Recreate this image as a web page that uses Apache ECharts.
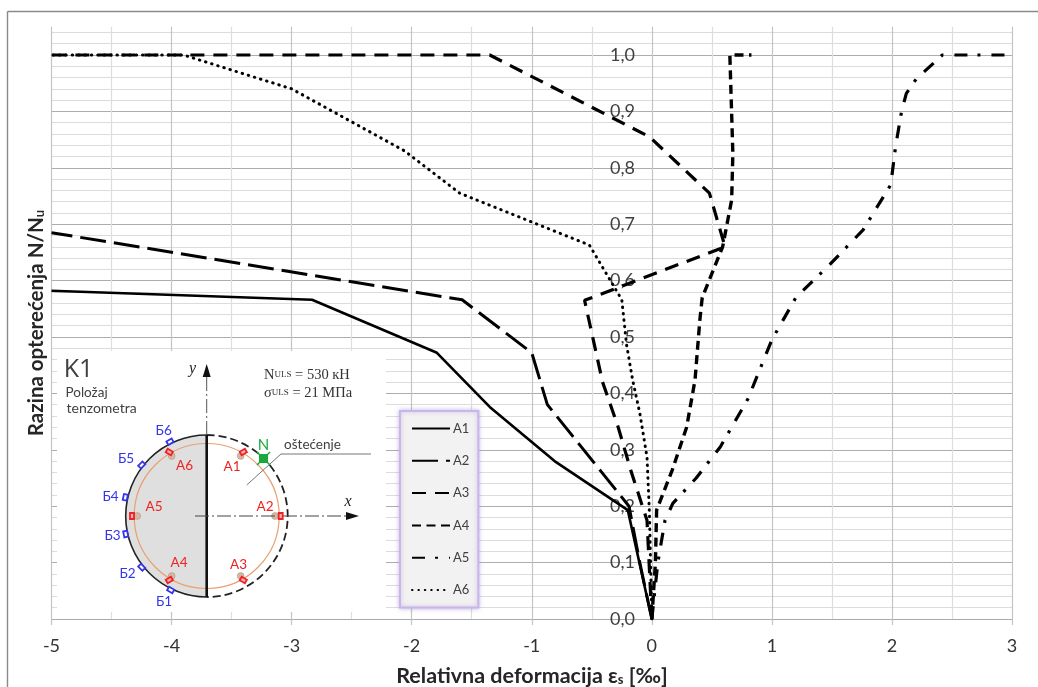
<!DOCTYPE html>
<html><head><meta charset="utf-8">
<style>html,body{margin:0;padding:0;background:#fff}#c{width:1038px;height:687px}</style>
<script src="https://cdn.jsdelivr.net/npm/echarts@6/dist/echarts.min.js"></script>
</head><body><div id="c"></div>
<script>
const A1 = [[0,0],[-0.2,0.193],[-0.81,0.28],[-1.35,0.376],[-1.79,0.472],[-2.83,0.566],[-5,0.582]];
const A2 = [[0,0],[-0.1,0.1],[-0.19,0.2],[-0.87,0.38],[-1.0,0.472],[-1.58,0.566],[-5,0.685]];
const A3 = [[0,0],[-0.04,0.175],[-0.17,0.26],[-0.28,0.34],[-0.41,0.42],[-0.56,0.565],[0.61,0.66],[0.48,0.755],[-0.02,0.855],[-1.35,1],[-5,1]];
const A4 = [[0,0],[0.03,0.1],[0.04,0.193],[0.17,0.264],[0.29,0.34],[0.36,0.424],[0.4,0.53],[0.42,0.57],[0.59,0.66],[0.665,0.743],[0.675,0.825],[0.65,1],[0.83,1]];
const A5 = [[0,0],[0.05,0.1],[0.11,0.175],[0.175,0.205],[0.37,0.25],[0.57,0.305],[0.8,0.39],[1,0.495],[1.2,0.57],[1.48,0.628],[1.76,0.69],[1.99,0.77],[2.03,0.837],[2.08,0.9],[2.12,0.932],[2.2,0.957],[2.42,1],[3,1]];
const A6 = [[0,0],[-0.02,0.188],[-0.04,0.287],[-0.1,0.365],[-0.16,0.424],[-0.21,0.486],[-0.25,0.566],[-0.52,0.663],[-1.6,0.755],[-2.06,0.83],[-3,0.94],[-3.9,1],[-5,1]];
const seriesNames = ['A1','A2','A3','A4','A5','A6'];
const xTitle = 'Relativna deformacija ε';
const yTitle = 'Razina opterećenja N/N';

const font = 'Lato, "Open Sans", sans-serif';
const serif = '"Liberation Serif", "DejaVu Serif", serif';
const txt = (x, y, text, size, fill, extra) => ({
  type: 'text', x, y, z: 6,
  style: Object.assign({text, fontSize: size, fontFamily: font, fill, align: 'center', verticalAlign: 'middle'}, extra || {})
});
const RED = '#ee2222', BLUE = '#3535e8', GREY = '#404040', GREEN = '#1aa83a';
const sensor = (x, y, rot, stroke) => ({
  type: 'rect', x, y, rotation: rot, z: 6,
  shape: {x: -3, y: -2, width: 6, height: 4},
  style: {fill: stroke === RED ? '#ffb0b0' : '#fff', stroke, lineWidth: 1.8}
});
const blob = (x, y) => ({type: 'circle', z: 5, shape: {cx: x, cy: y, r: 3.4}, style: {fill: '#d3b9a5', stroke: '#b09a88', lineWidth: 0.6}});
const cx = 206.7, cy = 516;
const inset = [
  {type: 'rect', z: 3, shape: {x: 57, y: 351, width: 329, height: 261}, style: {fill: '#fff'}},
  {type: 'sector', z: 4, shape: {cx, cy, r: 81, r0: 0, startAngle: Math.PI/2, endAngle: Math.PI*1.5, clockwise: true}, style: {fill: '#dfdfdf'}},
  {type: 'arc', z: 5, shape: {cx, cy, r: 81, startAngle: Math.PI/2, endAngle: Math.PI*1.5, clockwise: true}, style: {fill: 'none', stroke: '#222', lineWidth: 1.6}},
  {type: 'arc', z: 5, shape: {cx, cy, r: 81, startAngle: -Math.PI/2, endAngle: Math.PI/2, clockwise: true}, style: {fill: 'none', stroke: '#222', lineWidth: 1.8, lineDash: [8,4]}},
  {type: 'circle', z: 5, shape: {cx, cy, r: 72.5}, style: {fill: 'none', stroke: '#e8a070', lineWidth: 1.2}},
  {type: 'line', z: 6, shape: {x1: cx, y1: 435, x2: cx, y2: 597}, style: {stroke: '#111', lineWidth: 2.6}},
  {type: 'line', z: 6, shape: {x1: cx, y1: 435, x2: cx, y2: 372}, style: {stroke: '#555', lineWidth: 1, lineDash: [14,3,2,3]}},
  {type: 'polygon', z: 6, shape: {points: [[cx,364],[cx-4,377],[cx+4,377]]}, style: {fill: '#111'}},
  {type: 'line', z: 6, shape: {x1: 195, y1: cy, x2: 347, y2: cy}, style: {stroke: '#444', lineWidth: 1, lineDash: [14,3,2,3]}},
  {type: 'polygon', z: 6, shape: {points: [[359,cy],[346,cy-4],[346,cy+4]]}, style: {fill: '#111'}},
  {type: 'polyline', z: 6, shape: {points: [[246.7,485],[281,454],[371,454]]}, style: {fill: 'none', stroke: '#777', lineWidth: 1}},
  {type: 'line', z: 7, shape: {x1: 257, y1: 465, x2: 270, y2: 452}, style: {stroke: GREEN, lineWidth: 1.5}},
  {type: 'line', z: 7, shape: {x1: 257, y1: 452, x2: 270, y2: 465}, style: {stroke: GREEN, lineWidth: 1.5}},
  {type: 'rect', z: 7, shape: {x: 259, y: 454, width: 9, height: 9}, style: {fill: GREEN}},
  blob(240.7,456), blob(275,516), blob(240.7,576), blob(171.7,576), blob(137.3,516), blob(171.7,456),
  sensor(243.3,452,Math.PI/6,RED), sensor(280.7,516,Math.PI/2,RED), sensor(243.3,580,-Math.PI/6,RED),
  sensor(169.3,580,Math.PI/6,RED), sensor(132,516,Math.PI/2,RED), sensor(169.3,452,-Math.PI/6,RED),
  sensor(170,441.7,Math.PI/6,BLUE), sensor(141.7,465,Math.PI/4,BLUE), sensor(125.3,497.3,Math.PI/2.3,BLUE),
  sensor(125.7,534,-Math.PI/2.3,BLUE), sensor(141.7,567.3,-Math.PI/4,BLUE), sensor(170.7,590,-Math.PI/6,BLUE),
  txt(78.5,370,'K1',25,GREY,{fontFamily:'"Open Sans",sans-serif'}),
  txt(65.5,393,'Položaj',13.5,GREY,{align:'left'}),
  txt(66.5,408,'tenzometra',14,GREY,{align:'left'}),
  txt(192.5,369,'y',16,'#222',{fontFamily:serif,fontStyle:'italic'}),
  txt(348,502,'x',16,'#222',{fontFamily:serif,fontStyle:'italic'}),
  {type:'text',x:264,y:375,z:6,style:{
    text:'N{s|ULS} = 530 кН',fontFamily:serif,fontSize:14.5,fill:'#333',align:'left',verticalAlign:'middle',
    rich:{s:{fontSize:9,fontFamily:serif,fill:'#333'}}}},
  {type:'text',x:264,y:393,z:6,style:{
    text:'σ{s|ULS} = 21 МПа',fontFamily:serif,fontSize:14.5,fill:'#333',align:'left',verticalAlign:'middle',
    rich:{s:{fontSize:9,fontFamily:serif,fill:'#333'}}}},
  txt(263.6,445,'N',15,GREEN),
  txt(312.5,445,'oštećenje',13.5,GREY),
  txt(232,467,'A1',13.5,RED), txt(265,507,'A2',13.5,RED), txt(238.5,565,'A3',13.5,RED),
  txt(179,563,'A4',13.5,RED), txt(154,507,'A5',13.5,RED), txt(184.5,466,'A6',13.5,RED),
  txt(164,601.5,'Б1',13.5,BLUE), txt(127.5,574,'Б2',13.5,BLUE), txt(112.5,536,'Б3',13.5,BLUE),
  txt(110.5,497,'Б4',13.5,BLUE), txt(126,459,'Б5',13.5,BLUE), txt(163.7,431,'Б6',13.5,BLUE)
];
const frame = [
  {type:'line',z:1,shape:{x1:7.5,y1:11.5,x2:1038,y2:11.5},style:{stroke:'#8a8a8a',lineWidth:1.4}},
  {type:'line',z:1,shape:{x1:7.5,y1:11.5,x2:7.5,y2:687},style:{stroke:'#8a8a8a',lineWidth:1.4}},
  {type:'text',x:532,y:676,z:6,style:{
    text:xTitle+'{s|s} [‰]',fontFamily:font,fontSize:21.5,fontWeight:'bold',fill:'#262626',align:'center',verticalAlign:'middle',
    rich:{s:{fontSize:13,fontWeight:'bold',fontFamily:font,fill:'#262626',padding:[7,0,0,0]}}}},
  {type:'text',x:36,y:323,rotation:Math.PI/2,z:6,style:{
    text:yTitle+'{s|u}',fontFamily:font,fontSize:20.5,fontWeight:'bold',fill:'#262626',align:'center',verticalAlign:'middle',
    rich:{s:{fontSize:13,fontWeight:'bold',fontFamily:font,fill:'#262626',padding:[7,0,0,0]}}}}
];

const styles = {
  A1: {width: 2.6, type: 'solid', cap: 'butt'},
  A2: {width: 3, type: [26, 8], cap: 'butt'},
  A3: {width: 3.2, type: [14, 9], cap: 'butt'},
  A4: {width: 3.4, type: [9, 5.5], cap: 'butt'},
  A5: {width: 3.2, type: [13, 10, 3, 11], cap: 'butt'},
  A6: {width: 3, type: [0.5, 5.9], cap: 'round'}
};
const data = {A1, A2, A3, A4, A5, A6};
const chart = echarts.init(document.getElementById('c'), null, {renderer: 'canvas'});
chart.setOption({
  animation: false,
  backgroundColor: '#fff',
  grid: {left: 51.5, right: 26, top: 26.8, bottom: 68},
  legend: {
    left: 400, top: 411, orient: 'vertical', padding: [11, 9, 11, 11], itemWidth: 38, itemHeight: 14, itemGap: 19.3,
    backgroundColor: '#f2f2f2', borderColor: '#c8b6e8', borderWidth: 2, shadowColor: 'rgba(160,130,220,0.5)', shadowBlur: 4,
    itemStyle: {opacity: 0},
    textStyle: {fontFamily: font, fontSize: 13, color: GREY, padding: [0,0,0,-2]},
    data: seriesNames, selectedMode: false
  },
  xAxis: {
    type: 'value', min: -5, max: 3, interval: 1,
    axisLine: {show: true, onZero: false, lineStyle: {color: '#aaa', width: 1.2}},
    axisTick: {show: true, length: 6, lineStyle: {color: '#c4c4c4', width: 1.2}},
    axisLabel: {fontFamily: font, fontSize: 18, color: '#333', margin: 18},
    splitLine: {show: true, lineStyle: {color: '#c4c4c4', width: 1.2}},
    minorTick: {show: false, splitNumber: 2},
    minorSplitLine: {show: true, lineStyle: {color: '#dedede', width: 1.2}}
  },
  yAxis: {
    type: 'value', min: 0, max: 1.05, interval: 0.02, offset: -600.5,
    axisLine: {show: false, onZero: false},
    axisTick: {show: false},
    axisLabel: {
      fontFamily: font, fontSize: 18, color: '#404040', margin: 17, showMaxLabel: false, padding: [3, 0, 0, 0],
      formatter: v => Math.round(v * 100) % 10 === 0 ? v.toFixed(1).replace('.', ',') : ''
    },
    splitLine: {show: true, showMaxLine: false, lineStyle: {color: ['#adadad', '#dcdcdc', '#dcdcdc', '#dcdcdc', '#dcdcdc'], width: 1.2}}
  },
  series: seriesNames.map(n => ({
    name: n, type: 'line', data: data[n], symbol: 'none', smooth: false, z: 2,
    lineStyle: {color: '#000', width: styles[n].width, type: styles[n].type, cap: styles[n].cap},
    itemStyle: {color: '#000'}
  })),
  graphic: {elements: frame.concat(inset)}
});
</script></body></html>
